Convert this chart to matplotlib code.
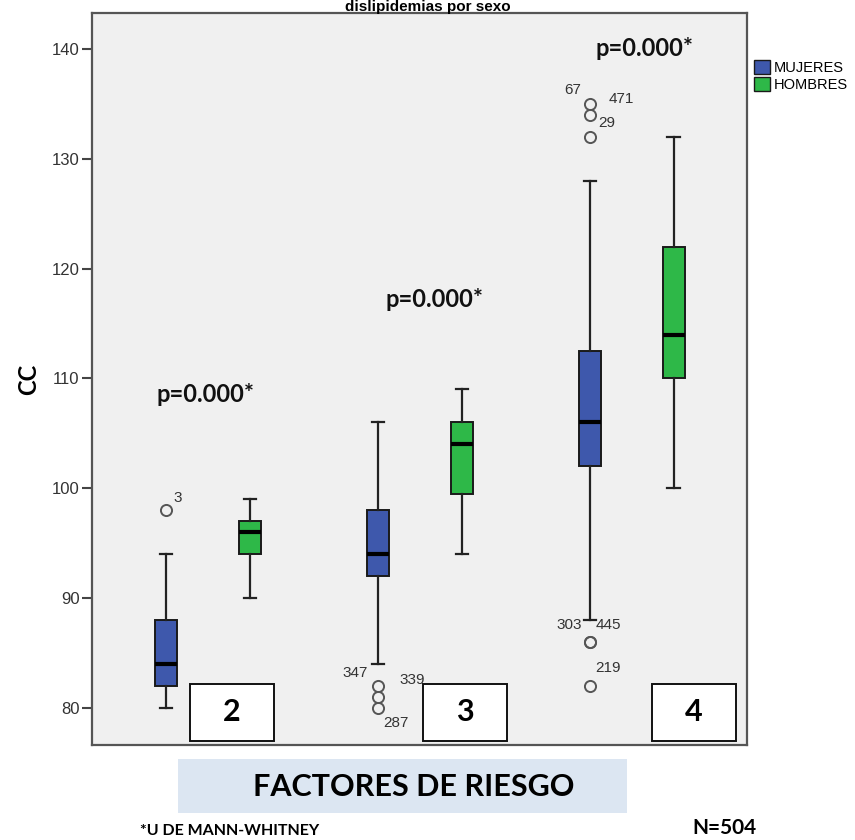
import matplotlib
matplotlib.use("Agg")
import matplotlib.pyplot as plt
from matplotlib.patches import Patch, Rectangle

# ---------------- data ----------------
groups = ["2", "3", "4"]
series = ["MUJERES", "HOMBRES"]

muj_whislo = [80, 84, 88]
muj_q1 = [82, 92, 102]
muj_med = [84, 94, 106]
muj_q3 = [88, 98, 112.5]
muj_whishi = [94, 106, 128]
muj_fliers = [[98], [82, 81, 80], [135, 134, 132, 86, 86, 82]]

hom_whislo = [90, 94, 100]
hom_q1 = [94, 99.5, 110]
hom_med = [96, 104, 114]
hom_q3 = [97, 106, 122]
hom_whishi = [99, 109, 132]
hom_fliers = [[], [], []]

# outlier case labels: (group index, value, label)
outlier_labels = [
    (0, 98, "3"),
    (1, 82, "347"), (1, 81, "339"), (1, 80, "287"),
    (2, 135, "67"), (2, 135, "471"), (2, 134, "29"),
    (2, 86, "303"), (2, 86, "445"), (2, 82, "219"),
]
label_offsets = {  # pixel offsets for text placement
    "3": (12, 12), "347": (-23, 13), "339": (34, 17), "287": (18, -15),
    "67": (-17, 14), "471": (32, 5), "29": (17, -8),
    "303": (-20, 17), "445": (19, 17), "219": (18, 18),
}
p_texts = ["p=0.000*", "p=0.000*", "p=0.000*"]
p_yvals = [108.5, 117.2, 140.1]
p_xoff = [-0.01, 0.07, 0.06]

yticks = [80, 90, 100, 110, 120, 130, 140]

BLUE = "#3E58AC"
GREEN = "#2EB848"
OFF = 0.198
BW = 0.104

fig = plt.figure(figsize=(8.55, 8.4), dpi=100)
ax = fig.add_axes([92 / 855, 1 - 745 / 840, (747 - 92) / 855, (745 - 13) / 840])
ax.set_facecolor("#F0F0F0")


def stats(lo, q1, med, q3, hi, fl):
    return [dict(whislo=lo[i], q1=q1[i], med=med[i], q3=q3[i], whishi=hi[i],
                 fliers=fl[i]) for i in range(len(lo))]


common = dict(
    widths=BW, patch_artist=True, showfliers=True,
    medianprops=dict(color="black", linewidth=3),
    whiskerprops=dict(color="#222222", linewidth=1.6),
    capprops=dict(color="#222222", linewidth=1.6),
    flierprops=dict(marker="o", markerfacecolor="none", markeredgecolor="#555555",
                    markersize=8, markeredgewidth=1.4),
    manage_ticks=False,
)
pos = list(range(len(groups)))
b1 = ax.bxp(stats(muj_whislo, muj_q1, muj_med, muj_q3, muj_whishi, muj_fliers),
            positions=[p - OFF for p in pos], boxprops=dict(facecolor=BLUE, edgecolor="#1a1a1a", linewidth=1.4),
            capwidths=BW * 0.55, **common)
b2 = ax.bxp(stats(hom_whislo, hom_q1, hom_med, hom_q3, hom_whishi, hom_fliers),
            positions=[p + OFF for p in pos], boxprops=dict(facecolor=GREEN, edgecolor="#1a1a1a", linewidth=1.4),
            capwidths=BW * 0.55, **common)

for gi, val, lab in outlier_labels:
    ax.annotate(lab, (gi - OFF, val), xytext=label_offsets[lab], textcoords="offset pixels",
                ha="center", va="center", fontsize=11, color="#333333",
                family="Liberation Sans")

for gi, (t, yv, xo) in enumerate(zip(p_texts, p_yvals, p_xoff)):
    ax.text(gi + xo, yv, t, ha="center", va="center", fontsize=17, fontweight="bold",
            family="Lato", color="#111111")

# category boxes with numbers
box_x = [-0.085, 1.015, 2.097]
for gi, g in enumerate(groups):
    ax.add_patch(Rectangle((box_x[gi], 77.0), 0.395, 5.2, facecolor="white",
                           edgecolor="#111111", linewidth=1.4, zorder=5))
    ax.text(box_x[gi] + 0.1975, 79.6, g, ha="center", va="center", fontsize=22,
            fontweight="bold", family="Lato", zorder=6)

ax.set_xlim(-0.548, 2.545)
ax.set_ylim(76.6, 143.3)
ax.set_xticks([])
ax.set_yticks(yticks)
ax.set_yticklabels([str(v) for v in yticks], fontsize=12, color="#333333", family="Liberation Sans")
ax.tick_params(axis="y", length=7, width=1.5, color="#444444", pad=2)
for s in ax.spines.values():
    s.set_color("#555555")
    s.set_linewidth(1.6)

ax.set_ylabel("CC", fontsize=17, fontweight="bold", family="Lato", labelpad=8)

# legend
handles = [Patch(facecolor=BLUE, edgecolor="#1a1a1a", label="MUJERES"),
           Patch(facecolor=GREEN, edgecolor="#1a1a1a", label="HOMBRES")]
fig.legend(handles=handles, loc="upper left", bbox_to_anchor=(744 / 855, 1 - 50 / 840),
           frameon=False, handlelength=1.1, handleheight=1.1,
           handletextpad=0.25, labelspacing=0.12, borderpad=0.2,
           prop=dict(family="Liberation Sans", size=10.5))

# title (cut at the top edge in the original)
fig.text(428 / 855, 1 - 11 / 840, "dislipidemias por sexo", ha="center", va="baseline",
         fontsize=11, fontweight="bold", family="Liberation Sans")

# x-axis title box
fig.patches.append(Rectangle((178 / 855, 1 - 813 / 840), (627 - 178) / 855, 54 / 840,
                             transform=fig.transFigure, facecolor="#DCE6F2", edgecolor="none"))
fig.text(414 / 855, 1 - 787 / 840, "FACTORES DE RIESGO", ha="center", va="center",
         fontsize=22, fontweight="bold", family="Lato")
fig.text(140 / 855, 1 - 831 / 840, "*U DE MANN-WHITNEY", ha="left", va="center",
         fontsize=11.5, fontweight="bold", family="Lato")
fig.text(724 / 855, 1 - 828 / 840, "N=504", ha="center", va="center",
         fontsize=15, fontweight="bold", family="Lato")

fig.savefig("out.png", dpi=100, facecolor="white")
